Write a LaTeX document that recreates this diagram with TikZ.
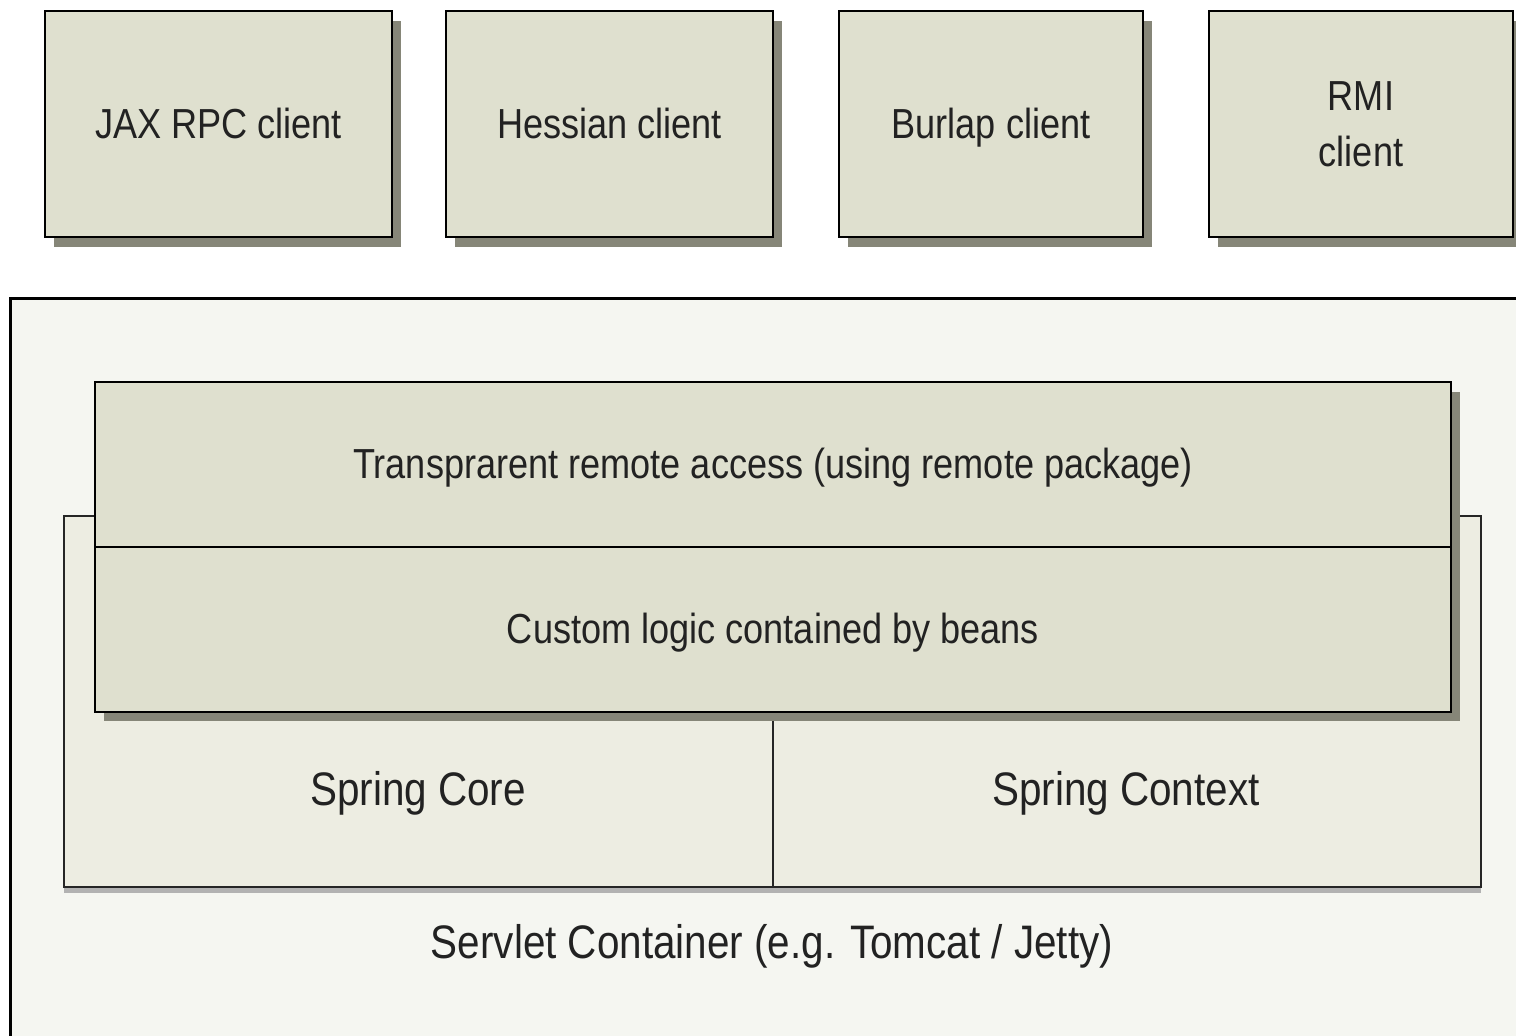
\documentclass[tikz,border=0pt]{standalone}
\usepackage{fontspec}
\setmainfont{Liberation Sans}[FakeStretch=0.86]
\usetikzlibrary{shadows}
\definecolor{boxfill}{HTML}{DFE0CF}
\definecolor{innerfill}{HTML}{EDEDE2}
\definecolor{outerfill}{HTML}{F5F6F1}
\definecolor{shadowc}{HTML}{868678}
\definecolor{txt}{HTML}{222222}
\tikzset{
  px/.style={x=0.5pt,y=-0.5pt},
  stackbox/.style={draw=black, line width=1.4pt, fill=boxfill, text=txt, font=\fontsize{21}{26}\selectfont, align=center,
    inner sep=0pt},
  oneline/.style={text height=18.5pt, text depth=4pt},
  boxstyle/.style={stackbox, drop shadow={shadow xshift=4.5pt, shadow yshift=-5pt, fill=shadowc, opacity=1}},
  lbl/.style={text=txt, font=\fontsize{23.5}{28}\selectfont, inner sep=0pt},
}
\begin{document}
\begin{tikzpicture}[px]
\useasboundingbox (0,0) rectangle (1516,1036);
\fill[white] (0,0) rectangle (1516,1036);
% outer servlet container
\fill[outerfill] (10,299) rectangle (1516,1036);
\coordinate (oBL) at (10,1036);
\coordinate (oTL) at (10,299);
\coordinate (oTR) at (1516,299);
\draw[line width=1.5pt, black] (oBL) -- (oTL) -- (oTR);
% client boxes
\node[boxstyle, oneline, minimum width=173.5pt, minimum height=113pt] (jax) at (218.5,124) {JAX RPC client};
\node[boxstyle, oneline, minimum width=163.5pt, minimum height=113pt] (hes) at (609.5,124) {Hessian client};
\node[boxstyle, oneline, minimum width=152pt, minimum height=113pt] (bur) at (991,124) {Burlap client};
\node[boxstyle, minimum width=152pt, minimum height=113pt] (rmi) at (1361,124) {RMI\\[2pt]client};
% inner spring box
\node[draw=black!85, line width=1.4pt, fill=innerfill, minimum width=708.5pt, minimum height=185.5pt, inner sep=0pt,
  drop shadow={shadow xshift=0pt, shadow yshift=-3pt, fill=black!30, opacity=1}] (spring) at (772.5,701.5) {};
\coordinate (divTop) at (773,712);
\coordinate (divBot) at (773,887);
\draw[line width=1.4pt, black!85] (divTop) -- (divBot);
\node[lbl] (core) at (418,793) {Spring Core};
\node[lbl] (ctx) at (1126,793) {Spring Context};
% stack shadow
\fill[shadowc] (104,392) rectangle (1460,721);
% stack
\node[stackbox, oneline, minimum width=678pt, minimum height=82.5pt] (custom) at (773,629.5) {Custom logic contained by beans};
\node[stackbox, oneline, minimum width=678pt, minimum height=82.5pt] (remote) at (773,464.5) {Transprarent remote access (using remote package)};
% servlet label
\node[lbl] (servlet) at (772,946) {Servlet Container (e.g. Tomcat / Jetty)};
\end{tikzpicture}
\end{document}
